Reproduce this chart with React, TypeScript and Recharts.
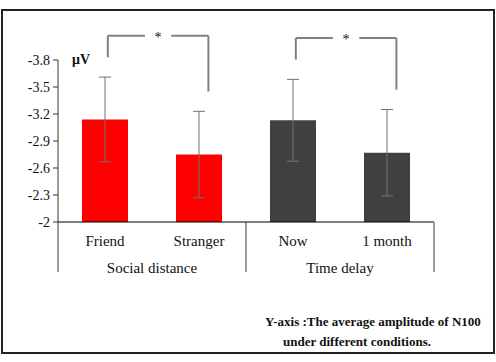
import React from 'react';
import { BarChart, Bar, XAxis, YAxis, ErrorBar, Cell, ReferenceLine } from 'recharts';

const categories = ['Friend', 'Stranger', 'Now', '1 month'];
const groupNames = ['Social distance', 'Time delay'];
const groupOf = [0, 0, 1, 1];
const amplitude = [-3.14, -2.75, -3.13, -2.77];
const errors = [0.47, 0.48, 0.455, 0.48];
const yTicks = [-3.8, -3.5, -3.2, -2.9, -2.6, -2.3, -2];
const groupBounds = [0, 1, 2, 3, 4];
const significance = [
  { from: 0, to: 1, label: '*' },
  { from: 2, to: 3, label: '*' },
];

const groupColors = ['#ff0000', '#404040'];
const font = "'Liberation Serif', 'Times New Roman', serif";

const data = categories.map((name, i) => ({
  name,
  pos: i + 0.5,
  value: amplitude[i],
  err: errors[i],
  group: groupOf[i],
}));

// second x axis: even ticks are group borders, odd ticks hold the group names
const GroupTick = (props: any) => {
  const { x, y, payload } = props;
  const v = payload.value;
  if (v % 2 === 0) {
    const last = v === groupBounds[groupBounds.length - 1];
    return (
      <line
        x1={x}
        x2={x}
        y1={y - 30}
        y2={y + 20}
        stroke={last ? '#9a9a9a' : '#333'}
        strokeWidth={last ? 2 : 1}
      />
    );
  }
  return (
    <text x={x} y={y + 16} dy="0.35em" textAnchor="middle" fontSize={15} fill="#111" fontFamily={font}>
      {groupNames[(v - 1) / 2]}
    </text>
  );
};

const errTop = (i: number) => amplitude[i] - errors[i];

const brackets = significance.map((s) => {
  const level = Math.min(errTop(s.from), errTop(s.to)) - 0.46;
  const x1 = s.from + 0.53;
  const x2 = s.to + 0.6;
  const mid = (x1 + x2) / 2;
  return {
    ...s,
    level,
    x1,
    x2,
    mid,
    leg1: errTop(s.from) - 0.22,
    leg2: errTop(s.to) - 0.22,
  };
});

const bracketStroke = '#808080';

const App: React.FC = () => {
  return (
    <div style={{ position: 'absolute', left: 0, top: 0, width: 496, height: 362, background: '#fff' }}>
      <div
        style={{
          position: 'absolute',
          left: 1,
          top: 9,
          width: 494,
          height: 345,
          border: '2px solid #222',
          boxSizing: 'border-box',
        }}
      />
      <div style={{ position: 'absolute', left: 0, top: 0 }}>
        <BarChart
          width={496}
          height={362}
          data={data}
          margin={{ top: 60, right: 62, left: 0, bottom: 70 }}
          style={{ fontFamily: font }}
        >
          <XAxis
            dataKey="name"
            tickLine={false}
            axisLine={{ stroke: '#000' }}
            tickSize={0}
            tickMargin={13}
            height={30}
            tick={{ fontSize: 15, fill: '#111', fontFamily: font }}
          />
          <XAxis
            xAxisId="grp"
            dataKey="pos"
            type="number"
            domain={[0, 4]}
            ticks={groupBounds}
            interval={0}
            allowDataOverflow
            axisLine={false}
            tickLine={false}
            tickSize={0}
            tickMargin={0}
            height={40}
            tick={<GroupTick />}
          />
          <YAxis
            reversed
            domain={[-3.8, -2]}
            ticks={yTicks}
            interval={0}
            allowDataOverflow
            width={58}
            tickSize={5}
            tickMargin={3}
            axisLine={{ stroke: '#333' }}
            tickLine={{ stroke: '#333' }}
            tick={{ fontSize: 14, fill: '#111', fontFamily: font }}
            label={{
              content: (p: any) => (
                <text
                  x={p.viewBox.x + p.viewBox.width + 14}
                  y={p.viewBox.y}
                  dy="0.3em"
                  fontSize={14}
                  fontWeight="bold"
                  fill="#111"
                  fontFamily={font}
                >
                  μV
                </text>
              ),
            }}
          />
          <Bar dataKey="value" barSize={46} isAnimationActive={false}>
            {data.map((d) => (
              <Cell key={d.name} fill={groupColors[d.group]} />
            ))}
            <ErrorBar dataKey="err" width={6} stroke="#707070" strokeWidth={1} isAnimationActive={false} />
          </Bar>
          {brackets.map((b) => (
            <React.Fragment key={b.from}>
              <ReferenceLine
                xAxisId="grp"
                ifOverflow="visible"
                stroke={bracketStroke}
                strokeWidth={2}
                segment={[{ x: b.x1, y: b.level }, { x: b.mid - 0.14, y: b.level }]}
              />
              <ReferenceLine
                xAxisId="grp"
                ifOverflow="visible"
                stroke={bracketStroke}
                strokeWidth={2}
                segment={[{ x: b.mid + 0.14, y: b.level }, { x: b.x2, y: b.level }]}
              />
              <ReferenceLine
                xAxisId="grp"
                ifOverflow="visible"
                stroke={bracketStroke}
                strokeWidth={2}
                segment={[{ x: b.x1, y: b.level }, { x: b.x1, y: b.leg1 }]}
              />
              <ReferenceLine
                xAxisId="grp"
                ifOverflow="visible"
                stroke={bracketStroke}
                strokeWidth={2}
                segment={[{ x: b.x2, y: b.level }, { x: b.x2, y: b.leg2 }]}
              />
              <ReferenceLine
                xAxisId="grp"
                ifOverflow="visible"
                stroke="none"
                segment={[{ x: b.mid - 0.14, y: b.level }, { x: b.mid + 0.14, y: b.level }]}
                label={{
                  content: (p: any) => (
                    <text
                      x={p.viewBox.x + p.viewBox.width / 2}
                      y={p.viewBox.y}
                      dy="0.45em"
                      textAnchor="middle"
                      fontSize={14}
                      fill="#111"
                      fontFamily={font}
                    >
                      {b.label}
                    </text>
                  ),
                }}
              />
            </React.Fragment>
          ))}
        </BarChart>
      </div>
      <div
        style={{
          position: 'absolute',
          left: 265,
          top: 312,
          fontFamily: font,
          fontWeight: 'bold',
          fontSize: 13,
          lineHeight: '20px',
          color: '#111',
          whiteSpace: 'nowrap',
        }}
      >
        <div>Y-axis :The average amplitude of N100</div>
        <div style={{ paddingLeft: 18 }}>under different conditions.</div>
      </div>
    </div>
  );
};

export default App;
